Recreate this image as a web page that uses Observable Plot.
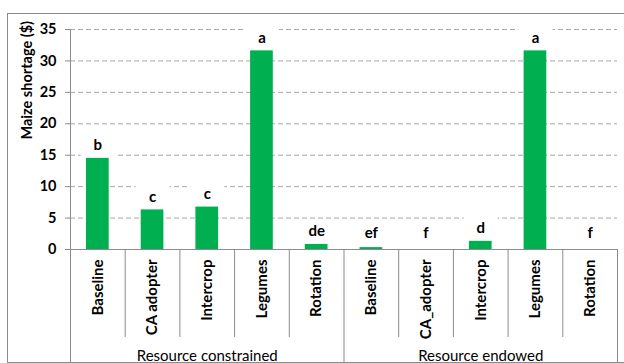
<!DOCTYPE html>
<html>
<head>
<meta charset="utf-8">
<script src="https://cdn.jsdelivr.net/npm/d3@7"></script>
<script src="https://cdn.jsdelivr.net/npm/@observablehq/plot@0.6"></script>
<style>
  html, body { margin: 0; padding: 0; background: #fff; overflow: hidden; }
  #wrap { position: relative; width: 624px; height: 363px; }
  #wrap::before {
    content: ""; position: absolute; left: 7px; top: 13px;
    width: 640px; height: 348px; border: 1.5px solid #8a8a8a; pointer-events: none;
  }
  #wrap svg { position: absolute; left: 0; top: 0; }
</style>
</head>
<body>
<div id="wrap"></div>
<script>
// Maize shortage by farm practice, for two farm resource groups
const groupNames = ["Resource constrained", "Resource endowed"];
const categories = ["Baseline", "CA adopter", "Intercrop", "Legumes", "Rotation",
                    "Baseline", "CA_adopter", "Intercrop", "Legumes", "Rotation"];
const shortage = [14.5, 6.3, 6.75, 31.6, 0.8, 0.3, 0, 1.3, 31.6, 0];
const letters = ["b", "c", "c", "a", "de", "ef", "f", "d", "a", "f"];
const yTicks = [0, 5, 10, 15, 20, 25, 30, 35];

const perGroup = categories.length / groupNames.length;
const rows = categories.map((category, i) => ({
  i, category, value: shortage[i], letter: letters[i],
  group: groupNames[Math.floor(i / perGroup)]
}));
const groupRows = groupNames.map((name, g) => ({name, mid: g * perGroup + perGroup / 2}));
const innerBounds = d3.range(1, categories.length).filter(b => b % perGroup !== 0);
const groupBounds = d3.range(0, categories.length + 1, perGroup);

// letter labels sit just above each bar (a small floor keeps them clear of the axis)
const labelY = d => Math.max(d.value, 0.6);
const box = {draw(ctx) { ctx.rect(-17, -12, 34, 24); }};

const font = "Lato, 'Open Sans', sans-serif";
const axisGray = "#8c8c8c";

const chart = Plot.plot({
  width: 624,
  height: 363,
  marginLeft: 70,
  marginRight: 7,
  marginTop: 29,
  marginBottom: 114,
  style: {fontFamily: font, background: "transparent", color: "#000"},
  x: {type: "linear", domain: [0, categories.length], axis: null},
  y: {domain: [0, 35], axis: null},
  marks: [
    Plot.gridY(yTicks.filter(t => t > 0), {stroke: "#a8a8a8", strokeOpacity: 1, strokeDasharray: "5,3"}),
    Plot.dot(rows, {x: d => d.i + 0.5, y: labelY, dy: -13, symbol: box, fill: "white", stroke: null}),
    Plot.rectY(rows, {x1: d => d.i, x2: d => d.i + 1, y: "value", insetLeft: 16, insetRight: 16, fill: "#00B050"}),
    Plot.text(rows, {x: d => d.i + 0.5, y: labelY, dy: -13, text: "letter", lineAnchor: "middle",
      fontSize: 15, fontWeight: "bold", fill: "#000"}),
    Plot.ruleY([0], {stroke: axisGray}),
    Plot.ruleX([0], {y1: 0, y2: 35, stroke: axisGray}),
    Plot.axisY({ticks: yTicks, tickSize: 5, tickPadding: 9, stroke: axisGray, fill: "#000",
      fontSize: 14.5, fontWeight: "bold", label: null}),
    Plot.text(["Maize shortage ($)"], {frameAnchor: "left", dx: -43, rotate: -90,
      lineAnchor: "middle", fontSize: 14.5, fontWeight: "bold", fill: "#000"}),
    // category table below the axis
    Plot.ruleX(innerBounds, {x: d => d, y1: 0, y2: 0, insetBottom: -88, stroke: axisGray}),
    Plot.ruleX(groupBounds, {x: d => d, y1: 0, y2: 0, insetBottom: -114, stroke: axisGray}),
    Plot.text(rows, {x: d => d.i + 0.5, frameAnchor: "bottom", dy: 10, rotate: -90,
      textAnchor: "end", lineAnchor: "middle", text: "category",
      fontSize: 15, fontWeight: "bold", fill: "#000"}),
    Plot.text(groupRows, {x: "mid", frameAnchor: "bottom", dy: 107, text: "name",
      lineAnchor: "middle", fontSize: 15, fill: "#000"})
  ]
});
document.getElementById("wrap").appendChild(chart);
</script>
</body>
</html>
